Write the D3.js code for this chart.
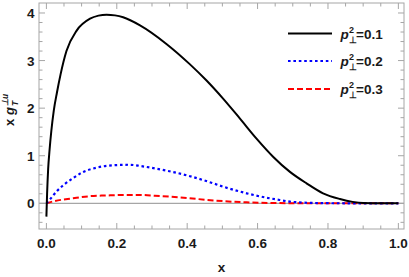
<!DOCTYPE html>
<html>
<head>
<meta charset="utf-8">
<script src="https://cdn.jsdelivr.net/npm/d3@7"></script>
<style>
  body { margin: 0; background: #fff; }
  text { font-family: "Liberation Sans", Arial, sans-serif; font-weight: bold; }
</style>
</head>
<body>
<div class="chart"></div>
<script>
// curve readings (x, x*g) per p_perp^2
var xs1 = [0, 0.002, 0.005, 0.009, 0.014, 0.021, 0.03, 0.04, 0.057, 0.086, 0.124, 0.148, 0.171, 0.195, 0.218, 0.266, 0.341, 0.408, 0.455, 0.502, 0.55, 0.597, 0.644, 0.692, 0.739, 0.786, 0.834, 0.87, 0.9, 0.95, 1.0];
var ys1 = [-0.28, 0.2, 0.72, 1.12, 1.52, 1.95, 2.33, 2.7, 3.2, 3.63, 3.88, 3.945, 3.965, 3.95, 3.91, 3.74, 3.35, 2.92, 2.58, 2.2, 1.78, 1.36, 0.98, 0.66, 0.42, 0.21, 0.09, 0.03, 0.005, 0, 0];

var xs2 = [0, 0.01, 0.029, 0.048, 0.076, 0.105, 0.143, 0.19, 0.237, 0.27, 0.346, 0.408, 0.474, 0.502, 0.569, 0.597, 0.663, 0.692, 0.758, 0.8, 0.9, 1.0];
var ys2 = [0, 0.08, 0.25, 0.38, 0.53, 0.66, 0.75, 0.80, 0.81, 0.78, 0.68, 0.57, 0.42, 0.35, 0.21, 0.16, 0.07, 0.035, 0.008, 0.002, 0, 0];

var xs3 = [0, 0.019, 0.076, 0.124, 0.171, 0.218, 0.266, 0.308, 0.379, 0.474, 0.569, 0.663, 0.75, 0.85, 1.0];
var ys3 = [0, 0.04, 0.105, 0.15, 0.165, 0.175, 0.175, 0.16, 0.125, 0.06, 0.02, 0.005, 0, 0, 0];

var legendLabels = ["=0.1", "=0.2", "=0.3"];
var xTicks = [0, 0.2, 0.4, 0.6, 0.8, 1.0];
var yTicks = [0, 1, 2, 3, 4];

var svgWidth = 409;
var svgHeight = 277;
var frameL = 39, frameR = 404, frameT = 3, frameB = 229;

var svg = d3.select(".chart")
  .append("svg")
  .attr("width", svgWidth)
  .attr("height", svgHeight);

var xScale = d3.scaleLinear().domain([-0.021, 1.016]).range([frameL, frameR]);
var yScale = d3.scaleLinear().domain([-0.54, 4.21]).range([frameB, frameT]);

var gray = "#a6a6a6";

// minor + major ticks on all four sides
var xMinor = d3.range(0, 1.0001, 0.05);
var yMinor = d3.range(-0.4, 4.2, 0.2);

function isMajor(v, step) { return Math.abs(v / step - Math.round(v / step)) < 1e-6; }

var tickG = svg.append("g").attr("stroke", gray).attr("stroke-width", 1);
xMinor.forEach(function(v) {
  var len = isMajor(v, 0.2) ? 6 : 3.5;
  var px = xScale(v);
  tickG.append("line").attr("x1", px).attr("x2", px).attr("y1", frameB).attr("y2", frameB - len);
  tickG.append("line").attr("x1", px).attr("x2", px).attr("y1", frameT).attr("y2", frameT + len);
});
yMinor.forEach(function(v) {
  var len = isMajor(v, 1) ? 6 : 3.5;
  var py = yScale(v);
  tickG.append("line").attr("x1", frameL).attr("x2", frameL + len).attr("y1", py).attr("y2", py);
  tickG.append("line").attr("x1", frameR).attr("x2", frameR - len).attr("y1", py).attr("y2", py);
});

// zero axis line
svg.append("line")
  .attr("x1", frameL).attr("x2", frameR)
  .attr("y1", yScale(0)).attr("y2", yScale(0))
  .attr("stroke", gray).attr("stroke-width", 1.3);

// frame
svg.append("rect")
  .attr("x", frameL).attr("y", frameT)
  .attr("width", frameR - frameL).attr("height", frameB - frameT)
  .attr("fill", "none").attr("stroke", gray).attr("stroke-width", 1);

// tick labels
svg.append("g").selectAll("text")
  .data(xTicks).enter().append("text")
  .attr("x", function(d) { return xScale(d); })
  .attr("y", frameB + 18.5)
  .attr("text-anchor", "middle")
  .attr("font-size", 13.5)
  .attr("fill", "#1a1a1a")
  .text(function(d) { return d3.format(".1f")(d); });

svg.append("g").selectAll("text")
  .data(yTicks).enter().append("text")
  .attr("x", frameL - 4.5)
  .attr("y", function(d) { return yScale(d) + 5; })
  .attr("text-anchor", "end")
  .attr("font-size", 13.5)
  .attr("fill", "#1a1a1a")
  .text(function(d) { return d; });

// curves
var line = d3.line()
  .x(function(d) { return xScale(d[0]); })
  .y(function(d) { return yScale(d[1]); })
  .curve(d3.curveMonotoneX);

var series = [
  { xs: xs1, ys: ys1, color: "#000000", dash: null, width: 2 },
  { xs: xs2, ys: ys2, color: "#0000ff", dash: "2.6,2.8", width: 2.2 },
  { xs: xs3, ys: ys3, color: "#ff0000", dash: "6,3", width: 2 }
];

var plot = svg.append("g");
series.slice().reverse().forEach(function(s) {
  var pts = d3.zip(s.xs, s.ys);
  plot.append("path")
    .attr("d", line(pts))
    .attr("fill", "none")
    .attr("stroke", s.color)
    .attr("stroke-width", s.width)
    .attr("stroke-dasharray", s.dash);
});

// legend
var legendY = [33.5, 61, 89];
series.forEach(function(s, i) {
  var g = svg.append("g").attr("transform", "translate(0," + legendY[i] + ")");
  g.append("line")
    .attr("x1", 288).attr("x2", 332)
    .attr("stroke", s.color).attr("stroke-width", s.width)
    .attr("stroke-dasharray", s.dash);
  g.append("text").attr("x", 340.5).attr("y", 5).attr("font-size", 13.5)
    .attr("font-style", "italic").attr("fill", "#1a1a1a").text("p");
  g.append("text").attr("x", 349).attr("y", -1).attr("font-size", 9)
    .attr("fill", "#1a1a1a").text("2");
  g.append("text").attr("x", 348.5).attr("y", 9).attr("font-size", 9)
    .attr("fill", "#1a1a1a").text("\u22a5");
  g.append("text").attr("x", 356).attr("y", 5).attr("font-size", 13.5)
    .attr("fill", "#1a1a1a").text(legendLabels[i]);
});

// axis labels
svg.append("text")
  .attr("x", (frameL + frameR) / 2)
  .attr("y", 272)
  .attr("text-anchor", "middle")
  .attr("font-size", 13.5)
  .attr("fill", "#1a1a1a")
  .text("x");

var yl = svg.append("g").attr("transform", "translate(14,126) rotate(-90)");
yl.append("text").attr("x", 0).attr("y", 0).attr("font-size", 13).attr("fill", "#1a1a1a").text("x");
yl.append("text").attr("x", 11).attr("y", 0).attr("font-size", 13).attr("fill", "#1a1a1a")
  .attr("font-style", "italic").text("g");
yl.append("text").attr("x", 20).attr("y", -6).attr("font-size", 8.5).attr("fill", "#1a1a1a")
  .attr("font-style", "italic").text("\u22a5u");
yl.append("text").attr("x", 20).attr("y", 4).attr("font-size", 8.5).attr("fill", "#1a1a1a")
  .attr("font-style", "italic").text("T");
</script>
</body>
</html>
